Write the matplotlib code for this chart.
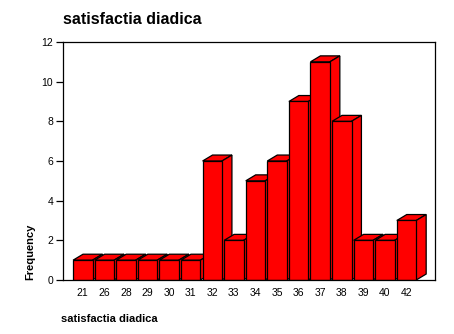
import matplotlib
matplotlib.use("Agg")
import matplotlib.pyplot as plt
from matplotlib.patches import Polygon, Rectangle

# Frequency table for the "satisfactia diadica" score
categories = ["21", "26", "28", "29", "30", "31", "32", "33", "34",
              "35", "36", "37", "38", "39", "40", "42"]
frequencies = [1, 1, 1, 1, 1, 1, 6, 2, 5, 6, 9, 11, 8, 2, 2, 3]
y_ticks = [0, 2, 4, 6, 8, 10, 12]

plt.rcParams["font.family"] = ["Liberation Sans", "DejaVu Sans"]

fig = plt.figure(figsize=(4.54, 3.34), dpi=100)
ax = fig.add_axes([0.1388, 0.1617, 0.8194, 0.7126])

bar_width = 0.9
depth_x = 0.46
depth_y = 0.30
face = "#ff0000"
lw = 0.9

for i, h in enumerate(frequencies):
    x0 = i - bar_width / 2
    x1 = i + bar_width / 2
    top = Polygon([(x0, h), (x0 + depth_x, h + depth_y),
                   (x1 + depth_x, h + depth_y), (x1, h)],
                  closed=True, facecolor=face, edgecolor="black", linewidth=lw)
    side = Polygon([(x1, 0), (x1 + depth_x, depth_y),
                    (x1 + depth_x, h + depth_y), (x1, h)],
                   closed=True, facecolor=face, edgecolor="black", linewidth=lw)
    front = Rectangle((x0, 0), bar_width, h, facecolor=face,
                      edgecolor="black", linewidth=lw)
    for p in (top, side, front):
        ax.add_patch(p)

ax.set_xlim(-0.917, 16.32)
ax.set_ylim(0, 12)
ax.set_yticks(y_ticks)
ax.set_yticklabels([str(v) for v in y_ticks], fontsize=7.5)
ax.set_xticks(range(len(categories)))
ax.set_xticklabels(categories, fontsize=7.5)
ax.tick_params(axis="x", length=0, pad=6)
ax.tick_params(axis="y", length=5, width=0.9, pad=2, direction="out")
for s in ax.spines.values():
    s.set_linewidth(0.9)

ax.set_ylabel("Frequency", fontsize=8, fontweight="bold")
ax.yaxis.set_label_coords(-0.075, 0.118)
fig.text(63 / 454, 1 - 20 / 334, "satisfactia diadica", fontsize=11.5,
         fontweight="bold", ha="left", va="center")
fig.text(61 / 454, 1 - 319 / 334, "satisfactia diadica", fontsize=8,
         fontweight="bold", ha="left", va="center")

fig.savefig("out.png", dpi=100)
